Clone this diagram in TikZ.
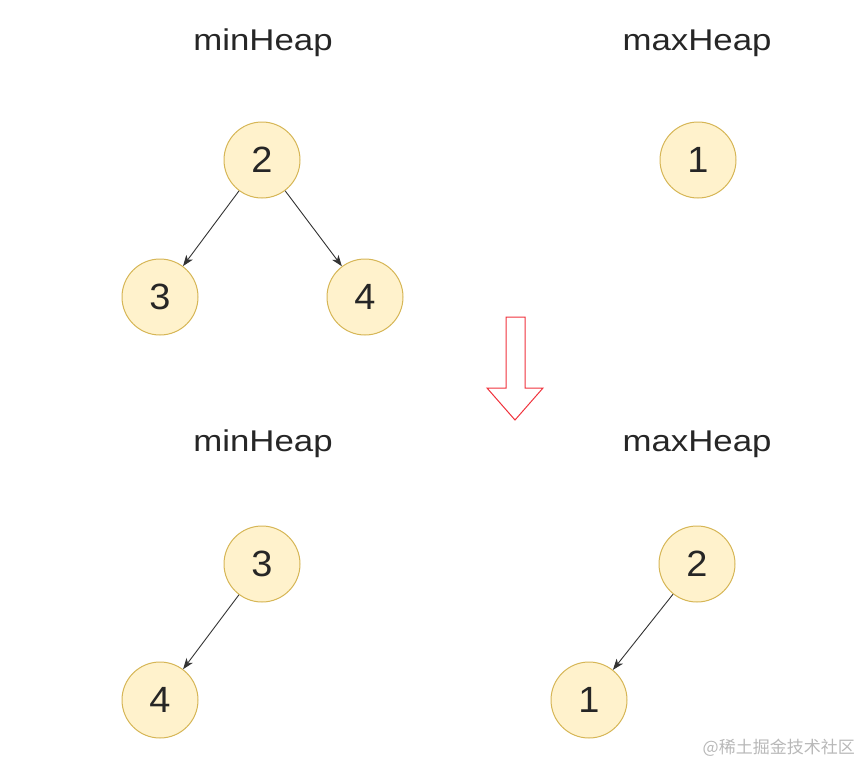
\documentclass[tikz,border=0pt]{standalone}
\usepackage{fontspec}
\setmainfont{Liberation Sans}
\newfontfamily\titlefont[FakeStretch=1.16]{Liberation Sans}
\newfontfamily\digitfont[FakeStretch=1.04]{Liberation Sans}
\newfontfamily\cjk{Noto Sans CJK SC}
\usetikzlibrary{arrows.meta}
\definecolor{nodefill}{HTML}{FFF2CC}
\definecolor{nodedraw}{HTML}{D6B656}
\definecolor{edgecol}{HTML}{333333}
\definecolor{arrowred}{HTML}{F0323C}
\definecolor{wmark}{HTML}{B8B8B8}
\tikzset{
  heapnode/.style={circle, draw=nodedraw, fill=nodefill, line width=1pt, minimum size=76pt, inner sep=0pt, font=\digitfont\fontsize{36.5}{40}\selectfont, text=black!85},
  title/.style={anchor=base, font=\titlefont\fontsize{30}{36}\selectfont, text=black!85, inner sep=0pt},
  heapedge/.style={draw=edgecol, line width=0.9pt, -{Stealth[length=11pt,width=8pt,inset=3pt]}},
}
\begin{document}
\begin{tikzpicture}[x=1pt,y=-1pt]
\useasboundingbox (0,0) rectangle (862,766);
% titles
\node[title] (t1) at (263,50.5) {minHeap};
\node[title] (t2) at (697,50.5) {maxHeap};
\node[title] (t3) at (263,451.5) {minHeap};
\node[title] (t4) at (697,451.5) {maxHeap};
% top nodes
\node[heapnode] (a2) at (262,160) {2};
\node[heapnode] (a3) at (160,297) {3};
\node[heapnode] (a4) at (365,297) {4};
\node[heapnode] (a1) at (698,160) {1};
\draw[heapedge] (a2) -- (a3);
\draw[heapedge] (a2) -- (a4);
% bottom nodes
\node[heapnode] (b3) at (262,564) {3};
\node[heapnode] (b4) at (160,700) {4};
\node[heapnode] (c2) at (697,564) {2};
\node[heapnode] (c1) at (589,700) {1};
\draw[heapedge] (b3) -- (b4);
\draw[heapedge] (c2) -- (c1);
% block arrow
\draw[arrowred, line width=1pt, line join=miter, fill=white]
  (506,317) -- (525,317) -- (525,388) -- (543,388) -- (515,420) -- (487,388) -- (506,388) -- cycle;
% watermark
\node[anchor=east, inner sep=0pt, text=wmark, font=\cjk\fontsize{17}{20}\selectfont] (wm) at (855,748) {@稀土掘金技术社区};
\end{tikzpicture}
\end{document}
